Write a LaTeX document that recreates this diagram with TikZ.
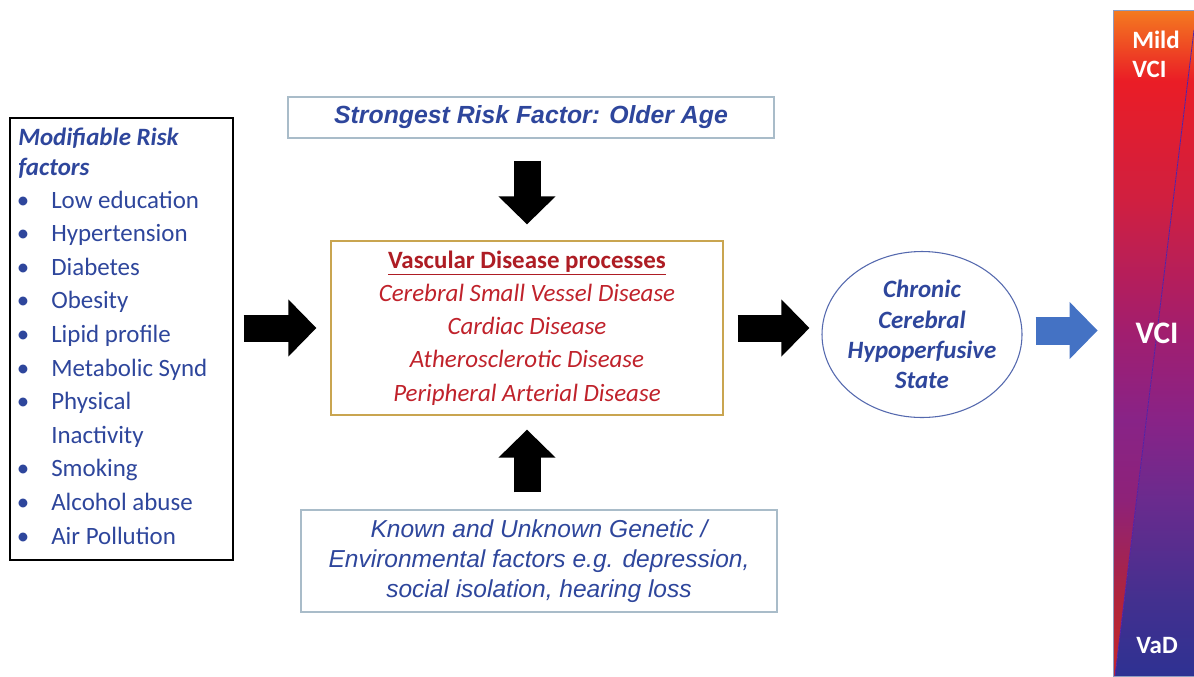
\documentclass[tikz,border=0pt]{standalone}
\usepackage{fontspec}
\setmainfont{Carlito}
\newfontfamily\arialfont{Liberation Sans}
\usetikzlibrary{arrows.meta,shapes.geometric}

\definecolor{riskblue}{HTML}{2E469C}
\definecolor{disred}{HTML}{C0222B}
\definecolor{headred}{HTML}{AE1D24}
\definecolor{boxgray}{HTML}{A9BCC9}
\definecolor{boxgold}{HTML}{C9A550}
\definecolor{ovalblue}{HTML}{5468AE}
\definecolor{arrowblue}{HTML}{4472C4}
\definecolor{barline}{HTML}{8E9CC0}
% bar colours, top to bottom
\definecolor{barorange}{HTML}{F47B20}
\definecolor{barred}{HTML}{EA1D26}
\definecolor{barcrimson}{HTML}{D01F40}
\definecolor{barmagenta}{HTML}{A11E6F}
\definecolor{barviolet}{HTML}{882387}
\definecolor{barpurple}{HTML}{6A2B8E}
\definecolor{barindigo}{HTML}{43308F}
\definecolor{barblue}{HTML}{2E3192}
\definecolor{barwine}{HTML}{8E2278}
\definecolor{barbrick}{HTML}{B0243C}
\definecolor{barrust}{HTML}{C4282C}

\pgfdeclareverticalshading{vcivad}{100bp}{color(0bp)=(barblue); color(25bp)=(barblue);
  color(30.7bp)=(barindigo); color(38.2bp)=(barpurple); color(44.2bp)=(barviolet);
  color(50.75bp)=(barmagenta); color(60.7bp)=(barcrimson); color(69.7bp)=(barred);
  color(75bp)=(barorange); color(100bp)=(barorange)}
\pgfdeclareverticalshading{vcimild}{100bp}{color(0bp)=(barrust); color(25bp)=(barrust);
  color(30.7bp)=(barbrick); color(38.2bp)=(barwine); color(44.2bp)=(barviolet);
  color(50.75bp)=(barmagenta); color(60.7bp)=(barcrimson); color(69.7bp)=(barred);
  color(75bp)=(barorange); color(100bp)=(barorange)}

\begin{document}
\begin{tikzpicture}[x=0.75pt, y=-0.75pt,
  every node/.style={font=\fontsize{18.7}{24.9}\selectfont},
  riskbox/.style={draw=black, line width=0.8pt, minimum width=167.25pt, minimum height=331.5pt, inner sep=0pt},
  factorbox/.style={draw=boxgray, line width=0.9pt, align=center, text=riskblue, inner sep=0pt},
  procbox/.style={draw=boxgold, line width=0.9pt, align=center, text=disred, inner sep=0pt,
    minimum width=294pt, minimum height=130.5pt, font=\itshape\fontsize{18.7}{24.9}\selectfont},
  hypo/.style={ellipse, draw=ovalblue, line width=0.8pt, minimum width=150pt, minimum height=124.5pt,
    inner xsep=-6pt, inner ysep=-1pt, align=center, text=riskblue,
    font=\bfseries\itshape\fontsize{18.7}{22.7}\selectfont},
  item/.style={anchor=base west, inner sep=0pt, text=riskblue},
  dot/.style={anchor=base, inner sep=0pt, text=riskblue},
  barlabel/.style={anchor=base, inner sep=0pt, text=white, font=\bfseries\fontsize{18.7}{22}\selectfont},
  blockarrow/.style={line width=20.25pt, -{Triangle[length=21pt, width=41.5pt]}}]

  \path[use as bounding box, fill=white] (0,0) rectangle (1194,676);

  % risk factors
  \node[riskbox] (risk) at (121.5,339) {};
  \node[item, font=\bfseries\itshape\fontsize{18.7}{24.9}\selectfont] (riskhead) at (18,145) {Modifiable Risk};
  \node[item, font=\bfseries\itshape\fontsize{18.7}{24.9}\selectfont] (riskhead2) at (18,175) {factors};
  \foreach \k/\t in {0/Low education, 1/Hypertension, 2/Diabetes, 3/Obesity, 4/Lipid profile,
      5/Metabolic Synd, 6/Physical, 8/Smoking, 9/Alcohol abuse, 10/Air Pollution} {
    \node[dot] (dot\k) at (23,{208+33.6*\k}) {•};
    \node[item] (item\k) at (51,{208+33.6*\k}) {\t};
  }
  \node[item] (item7) at (51,{208+33.6*7}) {Inactivity};

  % age and genetic boxes
  \node[factorbox, minimum width=364.5pt, minimum height=30.75pt,
    font=\arialfont\bfseries\itshape\fontsize{18.6}{22}\selectfont] (agebox) at (531,117.5)
    {Strongest Risk Factor: Older Age};
  \node[factorbox, minimum width=357pt, minimum height=76.5pt,
    font=\arialfont\itshape\fontsize{18.4}{22.5}\selectfont] (genebox) at (539,561)
    {Known and Unknown Genetic /\\Environmental factors e.g. depression,\\social isolation, hearing loss};

  % vascular disease processes
  \node[procbox] (vasc) at (527,328)
    {{\color{headred}\upshape\bfseries\underline{Vascular Disease processes}}\\
     Cerebral Small Vessel Disease\\Cardiac Disease\\Atherosclerotic Disease\\Peripheral Arterial Disease};

  \node[hypo] (hypo) at (922,334.5) {Chronic\\Cerebral\\Hypoperfusive\\State};

  % VCI bar
  \coordinate (diagtop) at (1194,30);
  \coordinate (diagbot) at (1115,676);
  \shade[shading=vcimild] (1113,10) -- (1194,10) -- (diagtop) -- (diagbot) -- (1113,676) -- cycle;
  \begin{scope}
    \clip (diagtop) -- (1194,676) -- (diagbot) -- cycle;
    \shade[shading=vcivad] (1113,10) rectangle (1194,676);
  \end{scope}
  \draw[barpurple!80!blue, line width=0.6pt] (diagtop) -- (diagbot);
  \node[draw=barline, line width=0.6pt, minimum width=60.75pt, minimum height=499.5pt, inner sep=0pt]
    (vcibar) at (1153.5,343) {};
  \node[barlabel, anchor=base west] (mild) at (1132,48) {Mild};
  \node[barlabel, anchor=base west] (mildvci) at (1132,77) {VCI};
  \node[barlabel, font=\bfseries\fontsize{23.5}{28}\selectfont] (vci) at (1157,343) {VCI};
  \node[barlabel] (vad) at (1157,653) {VaD};

  % arrows
  \draw[blockarrow, shorten <=16.5pt, shorten >=12pt] (agebox.south -| vasc.north) -- (vasc.north);
  \draw[blockarrow, shorten <=12.75pt, shorten >=10.5pt] (genebox.north -| vasc.south) -- (vasc.south);
  \draw[blockarrow, shorten <=7.5pt, shorten >=10.5pt] (risk.east |- vasc.west) -- (vasc.west);
  \draw[blockarrow, shorten <=10.5pt, shorten >=9pt] (vasc.east) -- (vasc.east -| hypo.west);
  \draw[blockarrow, arrowblue, line width=21pt, shorten <=9.75pt, shorten >=11.25pt]
    ([yshift=3pt]hypo.east) -- ([yshift=3pt]hypo.east -| vcibar.west);
\end{tikzpicture}
\end{document}
